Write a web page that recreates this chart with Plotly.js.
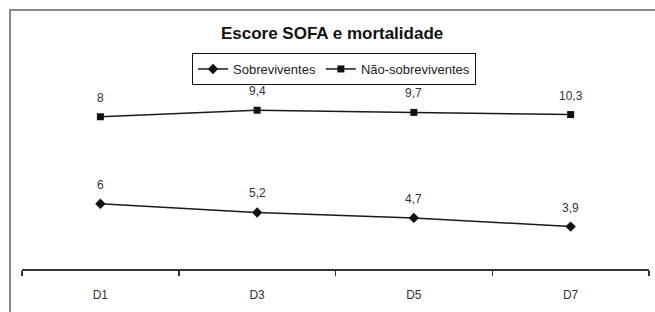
<!DOCTYPE html>
<html>
<head>
<meta charset="utf-8">
<script src="https://cdn.plot.ly/plotly-3.0.1.min.js"></script>
<style>
  html, body { margin: 0; padding: 0; background: #fff; }
  #frame { position: absolute; left: 9px; top: 9px; width: 700px; height: 400px;
           border-left: 2px solid #8a8a8a; border-top: 2px solid #8a8a8a; }
  #chart { position: absolute; left: 0; top: 0; width: 655px; height: 312px; }
</style>
</head>
<body>
<div id="frame"></div>
<div id="chart"></div>
<script>
// Data (stacked line chart, labels show each series' own value)
var categories = ['D1', 'D3', 'D5', 'D7'];
var sobreviventes = [6, 5.2, 4.7, 3.9];
var naoSobreviventes = [8, 9.4, 9.7, 10.3];
var seriesNames = ['Sobreviventes', 'Não-sobreviventes'];
var chartTitle = 'Escore SOFA e mortalidade';

function fmt(v) { return String(v).replace('.', ','); }

var FONT = 'Liberation Sans, Arial, sans-serif';
var labelFont = { family: FONT, size: 12, color: '#333' };

var traces = [
  {
    x: categories, y: sobreviventes, name: seriesNames[0],
    type: 'scatter', mode: 'lines+markers', stackgroup: 'one', fill: 'none',
    line: { color: '#1a1a1a', width: 1.5 },
    marker: { symbol: 'diamond', size: 8, color: '#111' },
    hoverinfo: 'skip'
  },
  {
    x: categories, y: naoSobreviventes, name: seriesNames[1],
    type: 'scatter', mode: 'lines+markers', stackgroup: 'one', fill: 'none',
    line: { color: '#1a1a1a', width: 1.5 },
    marker: { symbol: 'square', size: 7, color: '#111' },
    hoverinfo: 'skip'
  }
];

// Data labels placed at the stacked positions (through the axis scales)
var annotations = [];
categories.forEach(function (c, i) {
  var base = sobreviventes[i];
  annotations.push({ x: c, y: base, text: fmt(sobreviventes[i]), showarrow: false,
    xref: 'x', yref: 'y', yanchor: 'bottom', yshift: 10, font: labelFont });
  annotations.push({ x: c, y: base + naoSobreviventes[i], text: fmt(naoSobreviventes[i]), showarrow: false,
    xref: 'x', yref: 'y', yanchor: 'bottom', yshift: 10, font: labelFont });
});

var layout = {
  width: 655, height: 312,
  paper_bgcolor: 'rgba(0,0,0,0)', plot_bgcolor: 'rgba(0,0,0,0)',
  margin: { l: 22, r: 6, t: 95, b: 43 },
  font: { family: FONT, size: 12, color: '#333' },
  title: {
    text: chartTitle, x: 0.507, xanchor: 'center', yref: 'container',
    y: 1 - 33 / 312, yanchor: 'middle',
    font: { family: FONT, size: 17, weight: 'bold', color: '#111' }
  },
  showlegend: true,
  legend: {
    orientation: 'h', traceorder: 'normal',
    xref: 'container', yref: 'container',
    x: 334 / 655, xanchor: 'center', y: 1 - 53 / 312, yanchor: 'top',
    bordercolor: '#111', borderwidth: 1, bgcolor: '#fff',
    font: { family: FONT, size: 13, color: '#222' },
    itemwidth: 30
  },
  annotations: annotations,
  xaxis: {
    type: 'category', range: [-0.5, 3.5], tickson: 'boundaries',
    ticks: 'outside', ticklen: 5, tickcolor: '#333', tickwidth: 1.5,
    showline: true, linecolor: '#333', linewidth: 1.5,
    showgrid: false, zeroline: false, ticklabelstandoff: 14,
    tickfont: { family: FONT, size: 12, color: '#333' }
  },
  yaxis: {
    range: [0, 16], visible: false, showgrid: false, zeroline: false
  }
};

Plotly.newPlot('chart', traces, layout, { displayModeBar: false, staticPlot: true });
</script>
</body>
</html>
